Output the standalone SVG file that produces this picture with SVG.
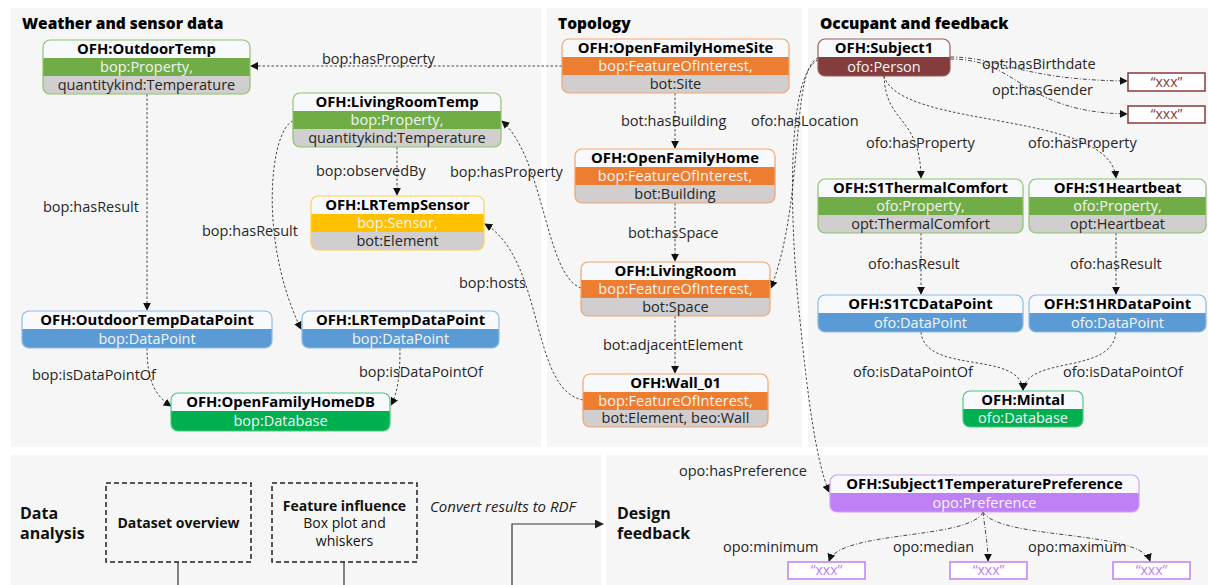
<svg xmlns="http://www.w3.org/2000/svg" width="1208" height="585" viewBox="0 0 1208 585">
<defs>
<marker id="ah" viewBox="0 0 10 10" refX="9" refY="5" markerWidth="8" markerHeight="8" markerUnits="userSpaceOnUse" orient="auto"><path d="M0,0 L10,5 L0,10 Z" fill="#111"/></marker>
<marker id="ah2" viewBox="0 0 10 10" refX="9" refY="5" markerWidth="9" markerHeight="9" markerUnits="userSpaceOnUse" orient="auto"><path d="M0,0 L10,5 L0,10 Z" fill="#222"/></marker>
<style>
text{font-family:"Open Sans","Liberation Sans",sans-serif;}
.panel{fill:#f6f6f6;}
.sec{font-size:15.5px;font-weight:800;fill:#000;}
.hdr{fill:#f8f9fc;}
.ttl{font-size:14.8px;font-weight:700;fill:#000;text-anchor:middle;}
.wt{font-size:14.5px;fill:#f4f4f4;text-anchor:middle;}
.gt{font-size:14.5px;fill:#262626;text-anchor:middle;}
.gray{fill:#d0cece;}
.lbl{font-size:14.5px;fill:#262626;}
.e{fill:none;stroke:#333;stroke-width:0.9;stroke-dasharray:2.5,2;marker-end:url(#ah);}
.ed{fill:none;stroke:#333;stroke-width:0.9;stroke-dasharray:4,2,1,2;marker-end:url(#ah);}
.ob{fill:none;stroke-width:1.2;}
.dbox{fill:none;stroke:#222;stroke-width:1.5;stroke-dasharray:5,3;}
.bt{font-size:14px;fill:#111;text-anchor:middle;}
.solid{fill:none;stroke:#333;stroke-width:1.2;}
.big{font-size:16px;font-weight:700;fill:#111;}
.xm{font-size:14px;fill:#8b3a3a;text-anchor:middle;}
.xp{font-size:14px;fill:#c080f5;text-anchor:middle;}
</style>
</defs>

<!-- panels -->
<g id="panels">
<rect class="panel" x="11" y="8" width="530" height="439"/>
<rect class="panel" x="547" y="8" width="255" height="439"/>
<rect class="panel" x="808" y="8" width="400" height="439"/>
<rect class="panel" x="11" y="455" width="590" height="130"/>
<rect class="panel" x="606" y="455" width="602" height="130"/>
<text class="sec" x="22" y="29">Weather and sensor data</text>
<text class="sec" x="558" y="29">Topology</text>
<text class="sec" x="820" y="29">Occupant and feedback</text>
</g>

<!-- connectors -->
<g id="connectors">
<path class="e" d="M562,66 H251"/>
<path class="e" d="M147,94 V310"/>
<path class="e" d="M293,121 C270,130 258,240 301,329"/>
<path class="e" d="M397,147 V195"/>
<path class="e" d="M581,288 C545,275 545,160 502,121"/>
<path class="e" d="M583,400 C530,390 545,260 485,224"/>
<path class="e" d="M147,348 C147,380 155,396 171,406"/>
<path class="e" d="M400,348 C400,375 398,392 391,405"/>
<path class="e" d="M675,93 V148"/>
<path class="e" d="M675,203 V261"/>
<path class="e" d="M675,316 V373"/>
<path class="e" d="M818,58 C790,70 805,200 771,288"/>
<path class="e" d="M818,60 C785,75 790,230 800,320 C808,400 816,460 829,492"/>
<path class="ed" d="M950,57 C1000,57 1020,80 1127,81"/>
<path class="ed" d="M950,59 C1020,59 1020,112 1127,114"/>
<path class="e" d="M884,76 C886,125 920,115 921,178"/>
<path class="e" d="M884,76 C900,130 1110,110 1116,178"/>
<path class="e" d="M921,233 V294"/>
<path class="e" d="M1116,233 V294"/>
<path class="e" d="M921,332 C925,375 1020,350 1023,390"/>
<path class="e" d="M1116,332 C1112,375 1028,355 1023,390"/>
<path class="ed" d="M983,512 C970,540 840,530 829,561"/>
<path class="ed" d="M983,512 C985,530 988,545 988,561"/>
<path class="ed" d="M983,512 C1000,540 1140,530 1150,561"/>
<path class="solid" d="M178,562 V585"/>
<path class="solid" d="M344,562 V585"/>
<path class="solid" d="M512,585 V524 H603" marker-end="url(#ah2)"/>
<text class="lbl" x="322" y="64">bop:hasProperty</text>
<text class="lbl" x="43" y="212">bop:hasResult</text>
<text class="lbl" x="202" y="236">bop:hasResult</text>
<text class="lbl" x="316" y="176">bop:observedBy</text>
<text class="lbl" x="450" y="177">bop:hasProperty</text>
<text class="lbl" x="459" y="288">bop:hosts</text>
<text class="lbl" x="32" y="380">bop:isDataPointOf</text>
<text class="lbl" x="359" y="377">bop:isDataPointOf</text>
<text class="lbl" x="621" y="126">bot:hasBuilding</text>
<text class="lbl" x="628" y="238">bot:hasSpace</text>
<text class="lbl" x="603" y="350">bot:adjacentElement</text>
<text class="lbl" x="751" y="126">ofo:hasLocation</text>
<text class="lbl" x="982" y="69">opt:hasBirthdate</text>
<text class="lbl" x="992" y="95">opt:hasGender</text>
<text class="lbl" x="866" y="148">ofo:hasProperty</text>
<text class="lbl" x="1028" y="148">ofo:hasProperty</text>
<text class="lbl" x="868" y="269">ofo:hasResult</text>
<text class="lbl" x="1070" y="269">ofo:hasResult</text>
<text class="lbl" x="853" y="377">ofo:isDataPointOf</text>
<text class="lbl" x="1063" y="377">ofo:isDataPointOf</text>
<text class="lbl" x="679" y="476">opo:hasPreference</text>
<text class="lbl" x="723" y="552">opo:minimum</text>
<text class="lbl" x="893" y="552">opo:median</text>
<text class="lbl" x="1028" y="552">opo:maximum</text>
<text x="430" y="512" style="font-size:15px;font-style:italic;fill:#222;">Convert results to RDF</text>
</g>

<!-- Weather nodes -->
<g id="n-outdoortemp">
<rect class="gray" x="43" y="40" width="207" height="54" rx="7"/>
<path class="hdr" d="M43,58 V47 a7,7 0 0 1 7,-7 H243 a7,7 0 0 1 7,7 V58 Z"/>
<rect x="43" y="58" width="207" height="18" fill="#70ad47"/>
<rect class="ob" x="43" y="40" width="207" height="54" rx="7" stroke="#8cc46a"/>
<text class="ttl" x="146.5" y="54">OFH:OutdoorTemp</text>
<text class="wt" x="146.5" y="72">bop:Property,</text>
<text class="gt" x="146.5" y="90">quantitykind:Temperature</text>
</g>
<g id="n-livingroomtemp">
<rect class="gray" x="293" y="93" width="208" height="54" rx="7"/>
<path class="hdr" d="M293,111 V100 a7,7 0 0 1 7,-7 H494 a7,7 0 0 1 7,7 V111 Z"/>
<rect x="293" y="111" width="208" height="18" fill="#70ad47"/>
<rect class="ob" x="293" y="93" width="208" height="54" rx="7" stroke="#8cc46a"/>
<text class="ttl" x="397" y="107">OFH:LivingRoomTemp</text>
<text class="wt" x="397" y="125">bop:Property,</text>
<text class="gt" x="397" y="143">quantitykind:Temperature</text>
</g>
<g id="n-lrtempsensor">
<rect class="gray" x="311" y="196" width="173" height="54" rx="7"/>
<path class="hdr" d="M311,214 V203 a7,7 0 0 1 7,-7 H477 a7,7 0 0 1 7,7 V214 Z"/>
<rect x="311" y="214" width="173" height="18" fill="#ffc000"/>
<rect class="ob" x="311" y="196" width="173" height="54" rx="7" stroke="#ffd24d"/>
<text class="ttl" x="397.5" y="210">OFH:LRTempSensor</text>
<text class="wt" x="397.5" y="228">bop:Sensor,</text>
<text class="gt" x="397.5" y="246">bot:Element</text>
</g>
<g id="n-outdoortempdp">
<rect x="22" y="311" width="250" height="37" rx="7" fill="#5b9bd5"/>
<path class="hdr" d="M22,329 V318 a7,7 0 0 1 7,-7 H265 a7,7 0 0 1 7,7 V329 Z"/>
<rect class="ob" x="22" y="311" width="250" height="37" rx="7" stroke="#8dbbe6"/>
<text class="ttl" x="147" y="325">OFH:OutdoorTempDataPoint</text>
<text class="wt" x="147" y="344">bop:DataPoint</text>
</g>
<g id="n-lrtempdp">
<rect x="302" y="311" width="197" height="37" rx="7" fill="#5b9bd5"/>
<path class="hdr" d="M302,329 V318 a7,7 0 0 1 7,-7 H492 a7,7 0 0 1 7,7 V329 Z"/>
<rect class="ob" x="302" y="311" width="197" height="37" rx="7" stroke="#8dbbe6"/>
<text class="ttl" x="400.5" y="325">OFH:LRTempDataPoint</text>
<text class="wt" x="400.5" y="344">bop:DataPoint</text>
</g>
<g id="n-ofhdb">
<rect x="171" y="393" width="219" height="38" rx="7" fill="#00b050"/>
<path class="hdr" d="M171,411 V400 a7,7 0 0 1 7,-7 H383 a7,7 0 0 1 7,7 V411 Z"/>
<rect class="ob" x="171" y="393" width="219" height="38" rx="7" stroke="#4cc97f"/>
<text class="ttl" x="280.5" y="407">OFH:OpenFamilyHomeDB</text>
<text class="wt" x="280.5" y="426">bop:Database</text>
</g>

<!-- Topology nodes -->
<g id="n-site">
<rect class="gray" x="562" y="39" width="227" height="54" rx="7"/>
<path class="hdr" d="M562,57 V46 a7,7 0 0 1 7,-7 H782 a7,7 0 0 1 7,7 V57 Z"/>
<rect x="562" y="57" width="227" height="18" fill="#ed7d31"/>
<rect class="ob" x="562" y="39" width="227" height="54" rx="7" stroke="#f4a46c"/>
<text class="ttl" x="675.5" y="53">OFH:OpenFamilyHomeSite</text>
<text class="wt" x="675.5" y="71">bop:FeatureOfInterest,</text>
<text class="gt" x="675.5" y="89">bot:Site</text>
</g>
<g id="n-home">
<rect class="gray" x="575" y="149" width="200" height="54" rx="7"/>
<path class="hdr" d="M575,167 V156 a7,7 0 0 1 7,-7 H768 a7,7 0 0 1 7,7 V167 Z"/>
<rect x="575" y="167" width="200" height="18" fill="#ed7d31"/>
<rect class="ob" x="575" y="149" width="200" height="54" rx="7" stroke="#f4a46c"/>
<text class="ttl" x="675" y="163">OFH:OpenFamilyHome</text>
<text class="wt" x="675" y="181">bop:FeatureOfInterest,</text>
<text class="gt" x="675" y="199">bot:Building</text>
</g>
<g id="n-livingroom">
<rect class="gray" x="581" y="262" width="189" height="54" rx="7"/>
<path class="hdr" d="M581,280 V269 a7,7 0 0 1 7,-7 H763 a7,7 0 0 1 7,7 V280 Z"/>
<rect x="581" y="280" width="189" height="18" fill="#ed7d31"/>
<rect class="ob" x="581" y="262" width="189" height="54" rx="7" stroke="#f4a46c"/>
<text class="ttl" x="675.5" y="276">OFH:LivingRoom</text>
<text class="wt" x="675.5" y="294">bop:FeatureOfInterest,</text>
<text class="gt" x="675.5" y="312">bot:Space</text>
</g>
<g id="n-wall">
<rect class="gray" x="583" y="374" width="185" height="53" rx="7"/>
<path class="hdr" d="M583,392 V381 a7,7 0 0 1 7,-7 H761 a7,7 0 0 1 7,7 V392 Z"/>
<rect x="583" y="392" width="185" height="18" fill="#ed7d31"/>
<rect class="ob" x="583" y="374" width="185" height="53" rx="7" stroke="#f4a46c"/>
<text class="ttl" x="675.5" y="388">OFH:Wall_01</text>
<text class="wt" x="675.5" y="406">bop:FeatureOfInterest,</text>
<text class="gt" x="675.5" y="423">bot:Element, beo:Wall</text>
</g>

<!-- Occupant nodes -->
<g id="n-subject1">
<rect x="818" y="39" width="132" height="37" rx="7" fill="#843c3c"/>
<path class="hdr" d="M818,57 V46 a7,7 0 0 1 7,-7 H943 a7,7 0 0 1 7,7 V57 Z"/>
<rect class="ob" x="818" y="39" width="132" height="37" rx="7" stroke="#a05a5a"/>
<text class="ttl" x="884" y="53">OFH:Subject1</text>
<text class="wt" x="884" y="72">ofo:Person</text>
</g>
<g id="n-birthdate">
<rect x="1128" y="73" width="77" height="18" fill="#fff" stroke="#8b3a3a" stroke-width="1.5"/>
<text class="xm" x="1166.5" y="87">“xxx”</text>
</g>
<g id="n-gender">
<rect x="1128" y="106" width="77" height="17" fill="#fff" stroke="#8b3a3a" stroke-width="1.5"/>
<text class="xm" x="1166.5" y="119">“xxx”</text>
</g>
<g id="n-thermal">
<rect class="gray" x="818" y="179" width="205" height="54" rx="7"/>
<path class="hdr" d="M818,197 V186 a7,7 0 0 1 7,-7 H1016 a7,7 0 0 1 7,7 V197 Z"/>
<rect x="818" y="197" width="205" height="18" fill="#70ad47"/>
<rect class="ob" x="818" y="179" width="205" height="54" rx="7" stroke="#8cc46a"/>
<text class="ttl" x="920.5" y="193">OFH:S1ThermalComfort</text>
<text class="wt" x="920.5" y="211">ofo:Property,</text>
<text class="gt" x="920.5" y="229">opt:ThermalComfort</text>
</g>
<g id="n-heartbeat">
<rect class="gray" x="1029" y="179" width="177" height="54" rx="7"/>
<path class="hdr" d="M1029,197 V186 a7,7 0 0 1 7,-7 H1199 a7,7 0 0 1 7,7 V197 Z"/>
<rect x="1029" y="197" width="177" height="18" fill="#70ad47"/>
<rect class="ob" x="1029" y="179" width="177" height="54" rx="7" stroke="#8cc46a"/>
<text class="ttl" x="1117.5" y="193">OFH:S1Heartbeat</text>
<text class="wt" x="1117.5" y="211">ofo:Property,</text>
<text class="gt" x="1117.5" y="229">opt:Heartbeat</text>
</g>
<g id="n-s1tcdp">
<rect x="818" y="295" width="205" height="37" rx="7" fill="#5b9bd5"/>
<path class="hdr" d="M818,313 V302 a7,7 0 0 1 7,-7 H1016 a7,7 0 0 1 7,7 V313 Z"/>
<rect class="ob" x="818" y="295" width="205" height="37" rx="7" stroke="#8dbbe6"/>
<text class="ttl" x="920.5" y="309">OFH:S1TCDataPoint</text>
<text class="wt" x="920.5" y="328">ofo:DataPoint</text>
</g>
<g id="n-s1hrdp">
<rect x="1029" y="295" width="177" height="37" rx="7" fill="#5b9bd5"/>
<path class="hdr" d="M1029,313 V302 a7,7 0 0 1 7,-7 H1199 a7,7 0 0 1 7,7 V313 Z"/>
<rect class="ob" x="1029" y="295" width="177" height="37" rx="7" stroke="#8dbbe6"/>
<text class="ttl" x="1117.5" y="309">OFH:S1HRDataPoint</text>
<text class="wt" x="1117.5" y="328">ofo:DataPoint</text>
</g>
<g id="n-mintal">
<rect x="963" y="391" width="120" height="36" rx="7" fill="#00b050"/>
<path class="hdr" d="M963,409 V398 a7,7 0 0 1 7,-7 H1076 a7,7 0 0 1 7,7 V409 Z"/>
<rect class="ob" x="963" y="391" width="120" height="36" rx="7" stroke="#4cc97f"/>
<text class="ttl" x="1023" y="405">OFH:Mintal</text>
<text class="wt" x="1023" y="423">ofo:Database</text>
</g>

<!-- Bottom panel -->
<g id="n-data-analysis">
<text class="big" x="20" y="519">Data</text>
<text class="big" x="20" y="539">analysis</text>
</g>
<g id="n-dataset-overview">
<rect class="dbox" x="106" y="483" width="145" height="79"/>
<text class="bt" x="178.5" y="528" style="font-weight:700;">Dataset overview</text>
</g>
<g id="n-feature-influence">
<rect class="dbox" x="272" y="483" width="145" height="79"/>
<text class="bt" x="344.5" y="511" style="font-weight:700;">Feature influence</text>
<text class="bt" x="344.5" y="528">Box plot and</text>
<text class="bt" x="344.5" y="546">whiskers</text>
</g>
<g id="n-design-feedback">
<text class="big" x="617" y="519">Design</text>
<text class="big" x="617" y="539">feedback</text>
</g>
<g id="n-preference">
<rect x="830" y="475" width="309" height="37" rx="7" fill="#bf7ff5"/>
<path class="hdr" d="M830,493 V482 a7,7 0 0 1 7,-7 H1132 a7,7 0 0 1 7,7 V493 Z"/>
<rect class="ob" x="830" y="475" width="309" height="37" rx="7" stroke="#cf9ff8"/>
<text class="ttl" x="984.5" y="489">OFH:Subject1TemperaturePreference</text>
<text class="wt" x="984.5" y="508">opo:Preference</text>
</g>
<g id="n-min">
<rect x="788" y="562" width="77" height="17" fill="#fff" stroke="#c080f5" stroke-width="1.5"/>
<text class="xp" x="826.5" y="575">“xxx”</text>
</g>
<g id="n-median">
<rect x="950" y="562" width="77" height="17" fill="#fff" stroke="#c080f5" stroke-width="1.5"/>
<text class="xp" x="988.5" y="575">“xxx”</text>
</g>
<g id="n-max">
<rect x="1113" y="562" width="77" height="17" fill="#fff" stroke="#c080f5" stroke-width="1.5"/>
<text class="xp" x="1151.5" y="575">“xxx”</text>
</g>
</svg>
